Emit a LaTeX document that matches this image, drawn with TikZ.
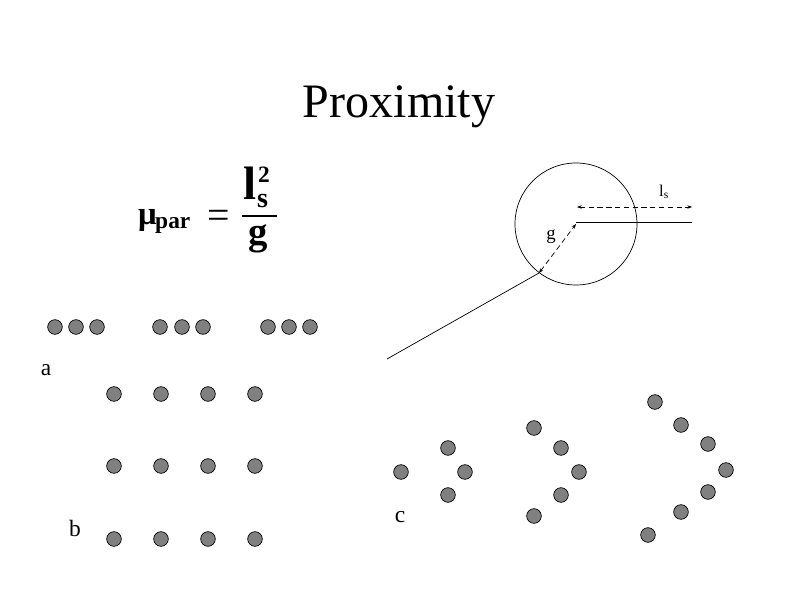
\documentclass[tikz,border=0pt]{standalone}
\usepackage{fontspec}
\setmainfont{Liberation Serif}
\usepackage{tikz}
\usetikzlibrary{arrows.meta,positioning}

\begin{document}
\begin{tikzpicture}[x=0.03cm, y=-0.03cm,
    dot/.style={circle, draw=black, fill=black!50, line width=0.6pt, inner sep=0pt, minimum size=0.44cm},
    lbl/.style={font=\fontsize{20}{24}\selectfont},
    bf/.style={font=\fontsize{#1}{#1}\selectfont\bfseries, inner sep=0pt},
    dim/.style={dash pattern=on 4.5pt off 3pt, line width=0.6pt, {Stealth[length=4pt,width=3pt]}-{Stealth[length=4pt,width=3pt]}}]
        \useasboundingbox (0,0) rectangle (800,600);

        % Title
        \node[font=\fontsize{41}{48}\selectfont] (title) at (399,107) {Proximity};

        % Formula
        \node[bf=28, anchor=base west] (mu) at (138,225) {μ};
        \node[bf=20, anchor=base west] (par) at (155,229) {par};
        \node[font=\fontsize{34}{34}\selectfont, inner sep=0pt] (eq) at (219,219) {=};
        \draw[line width=1.6pt] (242,216) -- (277,216);
        \node[bf=40, anchor=base west] (ell) at (243,200) {l};
        \node[bf=24, anchor=base west, text height=1ex, text depth=0pt] (sub) at (257,208) {s};
        \node[bf=20, anchor=base west, text height=1.3ex, text depth=0pt] (sup) at (258,183) {2};
        \node[bf=33, anchor=base] (gap) at (258,245) {g};

        % Circle of proximity
        \node[circle, draw, line width=0.6pt, minimum size=3.66cm, inner sep=0pt] (ring) at (576,224) {};
        \coordinate (ctr) at (576,224);
        \coordinate (lsend) at (692,222);
        \coordinate (gfoot) at (539,273);
        \coordinate (tail) at (387,359);
        \draw[line width=0.6pt] (576,222) -- (lsend);
        \draw[dim] (577,207) -- (692,207);
        \node[font=\fontsize{14}{16}\selectfont] (lslbl) at (664,192) {l\textsubscript{s}};
        \draw[dim] (gfoot) -- (ctr);
        \node[font=\fontsize{16}{18}\selectfont] (glbl) at (551,237) {g};
        \draw[line width=0.6pt] (gfoot) -- (tail);

        % Row a
        \foreach \x [count=\i] in {55,76,97,160,182,203,268,289,310}
            \node[dot] (a\i) at (\x,327) {};
        \node[lbl] (la) at (46,370) {a};

        % Grid b
        \foreach \y [count=\j] in {394,466,539}
            \foreach \x [count=\i] in {114,161,208,255}
                \node[dot] (b\j\i) at (\x,\y) {};
        \node[lbl] (lb) at (75,528) {b};

        % Groups c
        \foreach \x/\y [count=\i] in {401/472,448/448,465/472,448/495}
            \node[dot] (c1\i) at (\x,\y) {};
        \foreach \x/\y [count=\i] in {534/428,561/448,579/472,561/495,534/516}
            \node[dot] (c2\i) at (\x,\y) {};
        \foreach \x/\y [count=\i] in {655/402,681/425,708/444,726/470,708/492,681/512,648/535}
            \node[dot] (c3\i) at (\x,\y) {};
        \node[lbl] (lc) at (400,517) {c};
    \end{tikzpicture}
\end{document}
